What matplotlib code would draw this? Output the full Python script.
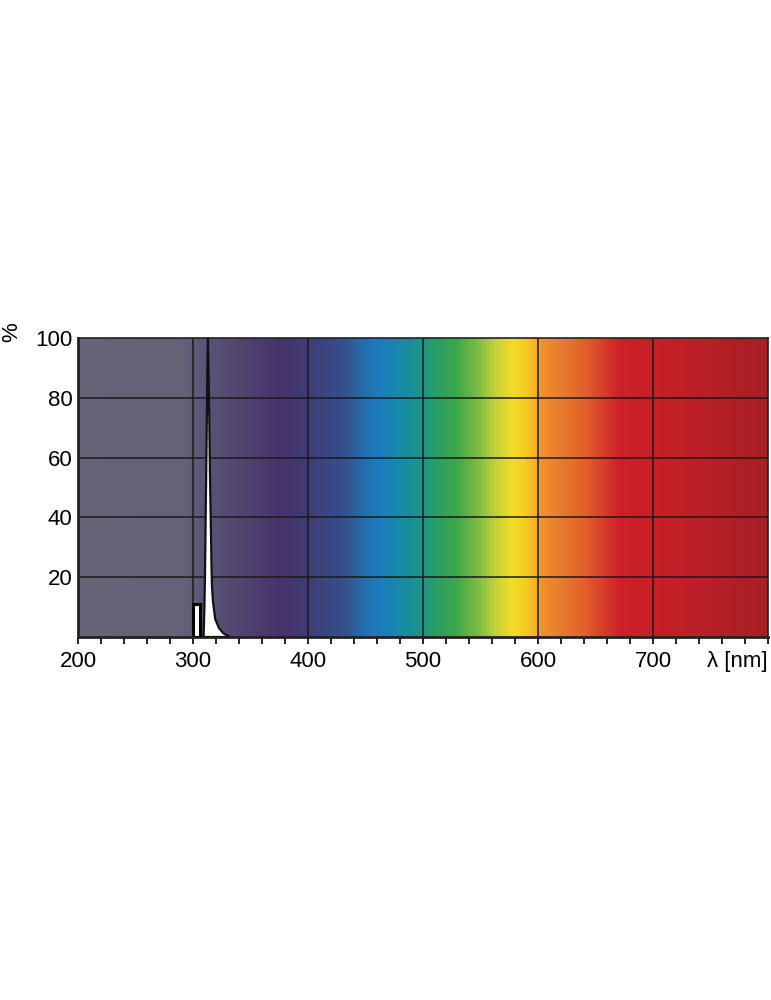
import numpy as np
import matplotlib.pyplot as plt
from matplotlib.colors import LinearSegmentedColormap

plt.rcParams['font.family'] = ['Liberation Sans', 'DejaVu Sans']

# spectrum background: wavelength (nm) -> colour
spec_nm = [200, 290, 310, 340, 375, 395, 430, 450, 462, 480, 500, 512, 528, 548,
           562, 577, 588, 597, 603, 640, 660, 672, 700, 800]
spec_col = ['#6a6479', '#666078', '#5b5577', '#514670', '#46336b', '#413a72',
            '#374f8c', '#2470ae', '#1a7dc0', '#178aa8', '#1d9585', '#2a9f62',
            '#3ba74c', '#7ebc43', '#c0cf3a', '#f0dc2a', '#f6ce22', '#f4b627',
            '#f0922e', '#e2622b', '#d6372a', '#cc2229', '#c82027', '#a81f25']

# narrow emission line (nm, %)
peak_nm = [309.2, 309.9, 310.4, 311.0, 311.8, 312.5, 313.0, 313.9, 314.7, 315.4,
           316.0, 316.5, 317.3, 319.3, 322.5, 326.5, 332.0]
peak_val = [0, 10, 20, 40, 65, 90, 100, 80, 55, 40, 25, 17, 12, 6, 3, 1.2, 0]

# small side band
bar_left = 300.0
bar_width = 6.5
bar_val = 11

x_major = [200, 300, 400, 500, 600, 700, 800]
x_labels = ['200', '300', '400', '500', '600', '700', '']
y_major = [20, 40, 60, 80, 100]

fig = plt.figure(figsize=(7.71, 10), dpi=100)
ax = fig.add_axes([0.1012, 0.363, 0.8949, 0.299])

pos = [(n - spec_nm[0]) / (spec_nm[-1] - spec_nm[0]) for n in spec_nm]
cmap = LinearSegmentedColormap.from_list('spec', list(zip(pos, spec_col)), N=1024)
grad = np.linspace(0, 1, 1200).reshape(1, -1)
ax.imshow(grad, cmap=cmap, extent=[200, 800, 0, 100], aspect='auto',
          interpolation='bilinear', zorder=0)

ax.set_xlim(200, 800)
ax.set_ylim(0, 100)

for v in x_major[1:-1]:
    ax.axvline(v, color='#1a1a1a', lw=1.1, zorder=1)
for v in y_major[:-1]:
    ax.axhline(v, color='#1a1a1a', lw=1.1, zorder=1)

ax.bar(bar_left, bar_val, width=bar_width, align='edge', color='white',
       edgecolor='black', lw=2.2, zorder=3)
ax.fill(peak_nm, peak_val, facecolor='white', edgecolor='#111111', lw=1.6,
        joinstyle='miter', zorder=3)

ax.set_xticks(x_major)
ax.set_xticklabels(x_labels, fontsize=16)
ax.set_xticks(np.arange(200, 801, 20), minor=True)
ax.tick_params(axis='x', which='both', direction='out', length=5, width=1.4,
               color='#222222', pad=5)
ax.set_yticks(y_major)
ax.set_yticklabels([str(v) for v in y_major], fontsize=16)
ax.tick_params(axis='y', length=0, pad=4)

for s in ax.spines.values():
    s.set_color('#222222')
    s.set_linewidth(1.2)
ax.spines['left'].set_linewidth(2.0)
ax.spines['bottom'].set_linewidth(2.0)

ax.text(800, -4.6, 'λ [nm]', ha='right', va='top', fontsize=16)
fig.text(12 / 771, 1 - 332 / 1000, '%', rotation=90, ha='center', va='center',
         fontsize=16)

fig.savefig('out.png', dpi=100)
